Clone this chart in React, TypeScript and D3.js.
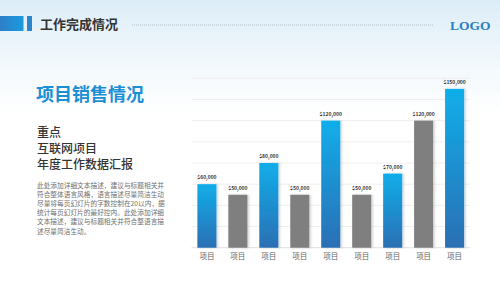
import React from "react";
import * as d3 from "d3";

const categories = ["项目", "项目", "项目", "项目", "项目", "项目", "项目", "项目", "项目"];
const values = [60000, 50000, 80000, 50000, 120000, 50000, 70000, 120000, 150000];
const highlight = [true, false, true, false, true, false, true, false, true];
const yTicks = [0, 20000, 40000, 60000, 80000, 100000, 120000, 140000, 160000];
const subtitleLines = ["重点", "互联网项目", "年度工作数据汇报"];
const paragraphLines = [
  "此处添加详细文本描述，建议与标题相关并",
  "符合整体语言风格，语言描述尽量简洁生动",
  "尽量将每页幻灯片的字数控制在20以内，据",
  "统计每页幻灯片的最好控内。此处添加详细",
  "文本描述，建议与标题相关并符合整语言描",
  "述尽量简洁生动。",
];

const W = 500;
const H = 281;
const FONT = "'Noto Sans CJK SC', 'Noto Sans', sans-serif";

export default function App() {
  const x = d3.scaleBand<number>().domain(d3.range(values.length)).range([191.5, 470]).paddingInner(0.385).paddingOuter(0.19);
  const y = d3.scaleLinear().domain([0, 160000]).range([247.7, 78.3]);
  const fmt = (v: number) => "$" + d3.format(",")(v);

  return (
    <svg width={W} height={H} style={{ position: "absolute", left: 0, top: 0, fontFamily: FONT }}>
      <defs>
        <linearGradient id="bg" x1="0" y1="0" x2="0" y2="1">
          <stop offset="0" stopColor="#dcedf8" />
          <stop offset="0.18" stopColor="#eef6fb" />
          <stop offset="0.4" stopColor="#ffffff" />
          <stop offset="1" stopColor="#ffffff" />
        </linearGradient>
        <linearGradient id="blueBar" x1="0" y1="0" x2="0" y2="1">
          <stop offset="0" stopColor="#10aeea" />
          <stop offset="1" stopColor="#2b6fb3" />
        </linearGradient>
        <linearGradient id="hdr" x1="0" y1="0" x2="1" y2="0">
          <stop offset="0" stopColor="#2d7fc6" />
          <stop offset="1" stopColor="#1a9be0" />
        </linearGradient>
        <filter id="sh" x="-30%" y="-10%" width="160%" height="120%">
          <feDropShadow dx="1.5" dy="0" stdDeviation="1" floodColor="#000" floodOpacity="0.18" />
        </filter>
      </defs>
      <rect x={0} y={0} width={W} height={H} fill="url(#bg)" />

      {/* header */}
      <rect x={0} y={16} width={23.5} height={15} fill="url(#hdr)" />
      <rect x={27} y={16} width={5} height={15} fill="#2d86cc" />
      <text x={40} y={29} fontSize={13} fontWeight={700} fill="#333">工作完成情况</text>
      <line x1={132} x2={433} y1={25} y2={25} stroke="#a9b3bb" strokeWidth={0.8} strokeDasharray="1 1" />
      <text x={450} y={30} fontSize={13.5} fontWeight={700} fill="#2a80c2" fontFamily="'Liberation Serif', 'DejaVu Serif', serif">LOGO</text>

      {/* left text */}
      <text x={36} y={101} fontSize={18} fontWeight={700} fill="#1a8fd6">项目销售情况</text>
      {subtitleLines.map((t, i) => (
        <text key={i} x={37} y={137 + i * 16} fontSize={12} fontWeight={500} fill="#333">{t}</text>
      ))}
      {paragraphLines.map((t, i) => (
        <text key={i} x={37} y={187.5 + i * 9.2} fontSize={6.7} fill="#6f6f6f">{t}</text>
      ))}

      {/* gridlines */}
      {yTicks.map((t) => (
        <line key={t} x1={191.5} x2={470} y1={y(t)} y2={y(t)} stroke={t === 0 ? "#d8d8d8" : "#ebebeb"} strokeWidth={0.8} />
      ))}

      {/* bars */}
      {values.map((v, i) => (
        <g key={i}>
          <rect
            x={x(i)}
            y={y(v)}
            width={x.bandwidth()}
            height={y(0) - y(v)}
            fill={highlight[i] ? "url(#blueBar)" : "#7f7f7f"}
            filter="url(#sh)"
          />
          <text x={(x(i) as number) + x.bandwidth() / 2} y={y(v) - 5} fontSize={5} fontWeight={700} fill="#333" textAnchor="middle">
            {fmt(v)}
          </text>
          <text x={(x(i) as number) + x.bandwidth() / 2} y={259} fontSize={7.5} fill="#666" textAnchor="middle">
            {categories[i]}
          </text>
        </g>
      ))}
    </svg>
  );
}
